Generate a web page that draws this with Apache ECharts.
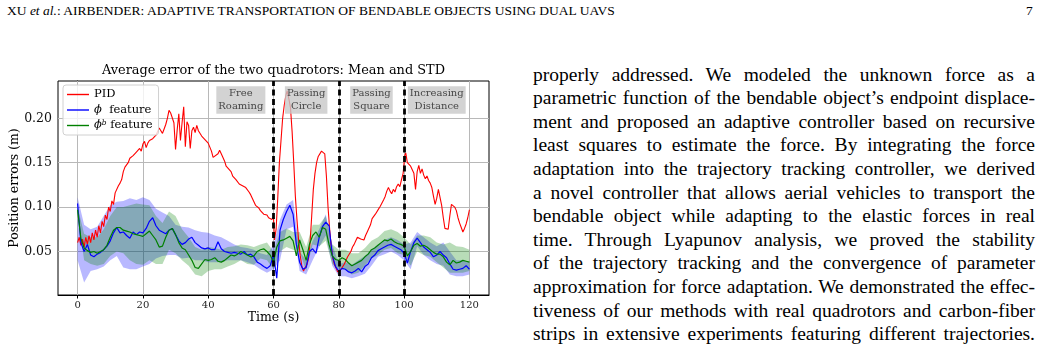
<!DOCTYPE html>
<html>
<head>
<meta charset="utf-8">
<script src="https://cdn.jsdelivr.net/npm/echarts@6.0.0/dist/echarts.min.js"></script>
<style>
  html, body { margin: 0; padding: 0; background: #fff; }
  body { width: 1042px; height: 351px; position: relative; overflow: hidden; }
  #header { position: absolute; left: 7px; top: 3px; font: 13.5px "Liberation Serif", serif; color: #000; white-space: nowrap; }
  #pageno { position: absolute; left: 1026px; top: 3px; font: 13.5px "Liberation Serif", serif; }
  #chart { position: absolute; left: 0; top: 0; width: 520px; height: 351px; }
  #text { position: absolute; left: 533px; top: 62.6px; width: 502px; font: 19.5px "Liberation Serif", serif; color: #000; }
  #text div { line-height: 23.6px; height: 23.6px; text-align: justify; text-align-last: justify; white-space: nowrap; }
</style>
</head>
<body>
<div id="header">XU <i>et al.</i>: AIRBENDER: ADAPTIVE TRANSPORTATION OF BENDABLE OBJECTS USING DUAL UAVS</div>
<div id="pageno">7</div>
<div id="chart"></div>
<div id="text">
  <div>properly addressed. We modeled the unknown force as a</div>
  <div>parametric function of the bendable object’s endpoint displace-</div>
  <div>ment and proposed an adaptive controller based on recursive</div>
  <div>least squares to estimate the force. By integrating the force</div>
  <div>adaptation into the trajectory tracking controller, we derived</div>
  <div>a novel controller that allows aerial vehicles to transport the</div>
  <div>bendable object while adapting to the elastic forces in real</div>
  <div>time. Through Lyapunov analysis, we proved the stability</div>
  <div>of the trajectory tracking and the convergence of parameter</div>
  <div>approximation for force adaptation. We demonstrated the effec-</div>
  <div>tiveness of our methods with real quadrotors and carbon-fiber</div>
  <div>strips in extensive experiments featuring different trajectories.</div>
</div>
<script>
// PID: [time (s), error (m)]
const pidData = [
  [0,0.060],[0.5,0.066],[1,0.057],[1.5,0.064],[2,0.055],[2.5,0.066],[3,0.058],[3.5,0.068],[4,0.060],[4.5,0.071],
  [5,0.063],[5.5,0.074],[6,0.066],[6.5,0.079],[7,0.071],[7.5,0.084],[8,0.078],[8.5,0.091],[9,0.086],[9.5,0.100],
  [10,0.095],[10.5,0.107],[11,0.103],[11.5,0.116],[12,0.114],[12.5,0.124],[13,0.127],[13.5,0.131],[14,0.140],[14.5,0.145],
  [15,0.143],[15.5,0.150],[16,0.155],[16.5,0.153],[17,0.158],[17.5,0.157],[18,0.162],[19,0.166],[19.5,0.163],[20,0.171],
  [20.5,0.174],[21,0.167],[21.5,0.172],[22,0.175],[23,0.177],[23.5,0.179],[24,0.181],[25,0.189],[25.5,0.186],[26,0.183],
  [26.5,0.188],[27,0.193],[27.5,0.200],[28,0.209],[28.5,0.206],[29,0.208],[29.5,0.195],[30,0.165],[30.5,0.187],[31,0.205],
  [31.5,0.175],[32,0.195],[32.5,0.213],[33,0.168],[33.5,0.196],[34,0.192],[34.5,0.166],[35,0.186],[35.5,0.190],[36,0.184],
  [36.5,0.192],[37,0.186],[37.5,0.188],[38,0.180],[38.5,0.181],[39,0.176],[39.5,0.176],[40,0.172],[41,0.163],[41.5,0.156],
  [42,0.157],[43,0.160],[43.5,0.164],[44,0.160],[45,0.152],[45.5,0.146],[46,0.147],[47,0.140],[47.5,0.135],[48,0.137],
  [48.5,0.131],[49,0.130],[49.5,0.126],[50,0.128],[50.5,0.124],[51,0.125],[51.5,0.122],[52,0.121],[52.5,0.117],[53,0.114],
  [53.5,0.110],[54,0.106],[54.5,0.102],[55,0.100],[55.5,0.099],[56,0.096],[56.5,0.094],[57,0.092],[57.5,0.090],[58,0.091],
  [58.5,0.088],[59,0.088],[59.5,0.086],[60,0.089],[60.3,0.063],[60.8,0.075],[61.3,0.110],[61.8,0.150],[62.3,0.175],[62.8,0.200],
  [63.3,0.215],[63.8,0.226],[64.2,0.231],[64.7,0.222],[65.2,0.212],[65.7,0.185],[66.2,0.150],[66.7,0.112],[67.2,0.085],[67.7,0.062],
  [68.2,0.045],[68.7,0.033],[69.2,0.028],[69.7,0.032],[70.2,0.035],[70.7,0.042],[71.2,0.060],[71.7,0.090],[72.2,0.120],[72.7,0.138],
  [73.2,0.150],[73.7,0.157],[74.2,0.156],[74.7,0.163],[75.2,0.165],[75.7,0.160],[76.2,0.135],[76.7,0.100],[77.2,0.075],[77.7,0.055],
  [78.2,0.042],[78.7,0.035],[79.2,0.033],[79.7,0.027],[80.2,0.026],[80.7,0.030],[81.2,0.028],[81.7,0.036],[82.2,0.040],[82.7,0.044],
  [83.2,0.046],[83.7,0.050],[84.2,0.055],[84.7,0.058],[85.2,0.062],[85.7,0.066],[86.2,0.068],[86.7,0.064],[87.2,0.066],[87.7,0.063],
  [88.2,0.068],[88.7,0.072],[89.2,0.070],[89.7,0.080],[90.2,0.087],[90.7,0.085],[91.2,0.092],[91.7,0.094],[92.2,0.098],[92.7,0.101],
  [93.2,0.100],[93.7,0.108],[94.2,0.112],[94.7,0.118],[95.2,0.122],[95.7,0.118],[96.2,0.115],[96.7,0.120],[97.2,0.117],[97.7,0.123],
  [98.2,0.126],[98.7,0.123],[99.2,0.131],[99.7,0.138],[100.2,0.158],[100.5,0.161],[101,0.150],[101.5,0.152],[102,0.146],[102.5,0.142],
  [103,0.138],[103.5,0.120],[104,0.140],[104.5,0.147],[105,0.138],[105.5,0.143],[106,0.136],[106.5,0.132],[107,0.135],[107.5,0.130],
  [108,0.127],[108.5,0.122],[109,0.112],[109.5,0.103],[110,0.110],[110.5,0.120],[111,0.118],[111.5,0.102],[112,0.088],[112.5,0.076],
  [113,0.074],[113.5,0.075],[114,0.090],[114.5,0.103],[115,0.104],[115.5,0.100],[116,0.096],[116.5,0.088],[117,0.082],[117.5,0.077],
  [118,0.072],[118.5,0.076],[119,0.081],[119.5,0.088],[120,0.097]
];

// phi feature mean, one value per second 0..120
const phiMean = [
  0.104,0.060,0.050,0.058,0.046,0.044,0.047,0.049,0.052,0.056,
  0.062,0.071,0.077,0.071,0.072,0.068,0.065,0.072,0.069,0.072,
  0.071,0.076,0.084,0.088,0.079,0.074,0.072,0.070,0.074,0.076,
  0.069,0.062,0.058,0.060,0.064,0.066,0.060,0.057,0.054,0.053,
  0.054,0.052,0.052,0.061,0.053,0.050,0.049,0.048,0.049,0.048,
  0.047,0.050,0.046,0.047,0.044,0.038,0.036,0.033,0.031,0.034,
  0.046,0.020,0.074,0.086,0.095,0.102,0.092,0.058,0.038,0.030,
  0.032,0.050,0.053,0.048,0.066,0.078,0.083,0.079,0.046,0.033,
  0.028,0.031,0.030,0.027,0.026,0.028,0.031,0.027,0.033,0.036,
  0.043,0.046,0.051,0.053,0.055,0.057,0.058,0.056,0.054,0.052,
  0.048,0.037,0.050,0.060,0.065,0.060,0.055,0.052,0.049,0.044,
  0.046,0.050,0.046,0.043,0.036,0.030,0.029,0.030,0.031,0.034,
  0.030
];

// phi^b feature mean, one value per second 0..120
const phibMean = [
  0.097,0.065,0.054,0.051,0.049,0.050,0.048,0.050,0.052,0.057,
  0.066,0.074,0.077,0.077,0.074,0.073,0.072,0.070,0.069,0.068,
  0.067,0.070,0.073,0.068,0.063,0.055,0.056,0.066,0.074,0.076,
  0.069,0.060,0.054,0.052,0.046,0.040,0.032,0.031,0.036,0.041,
  0.040,0.041,0.043,0.039,0.038,0.040,0.043,0.046,0.045,0.047,
  0.050,0.048,0.046,0.044,0.045,0.050,0.052,0.053,0.050,0.046,
  0.038,0.055,0.062,0.063,0.065,0.067,0.062,0.045,0.063,0.052,
  0.040,0.058,0.068,0.072,0.066,0.077,0.075,0.058,0.045,0.041,
  0.040,0.043,0.041,0.037,0.034,0.036,0.038,0.040,0.044,0.047,
  0.052,0.054,0.057,0.060,0.063,0.062,0.064,0.061,0.059,0.058,
  0.056,0.045,0.050,0.057,0.059,0.056,0.057,0.055,0.052,0.049,
  0.047,0.047,0.044,0.038,0.035,0.040,0.037,0.038,0.040,0.039,
  0.038
];

// STD bands, one value every 2 s (0, 2, ..., 120)
const phiUpper = [
  0.111,0.080,0.075,0.078,0.090,0.102,0.106,0.107,0.110,0.108,
  0.111,0.108,0.098,0.094,0.090,0.080,0.078,0.077,0.074,0.072,
  0.071,0.068,0.066,0.062,0.058,0.055,0.054,0.052,0.048,0.046,
  0.058,0.086,0.103,0.108,0.050,0.040,0.062,0.075,0.092,0.058,
  0.036,0.038,0.035,0.040,0.045,0.052,0.058,0.063,0.066,0.063,
  0.058,0.060,0.072,0.066,0.060,0.056,0.060,0.050,0.040,0.040,
  0.038
];
const phiLower = [
  0.040,0.015,0.028,0.030,0.033,0.040,0.045,0.032,0.030,0.030,
  0.033,0.036,0.042,0.045,0.046,0.046,0.042,0.043,0.040,0.040,
  0.038,0.038,0.038,0.040,0.040,0.040,0.038,0.035,0.030,0.026,
  0.030,0.040,0.075,0.078,0.028,0.024,0.040,0.055,0.068,0.034,
  0.022,0.022,0.020,0.022,0.025,0.034,0.044,0.047,0.050,0.046,
  0.040,0.030,0.056,0.046,0.040,0.036,0.034,0.024,0.022,0.022,
  0.024
];
const phibUpper = [
  0.100,0.070,0.066,0.066,0.075,0.090,0.100,0.100,0.102,0.104,
  0.103,0.102,0.090,0.082,0.095,0.090,0.075,0.066,0.055,0.052,
  0.055,0.054,0.052,0.055,0.056,0.058,0.057,0.055,0.058,0.060,
  0.050,0.072,0.076,0.072,0.072,0.055,0.080,0.080,0.090,0.058,
  0.052,0.052,0.048,0.048,0.054,0.062,0.066,0.073,0.075,0.072,
  0.066,0.058,0.068,0.068,0.066,0.060,0.058,0.060,0.056,0.055,
  0.052
];
const phibLower = [
  0.090,0.040,0.036,0.034,0.036,0.045,0.050,0.048,0.040,0.036,
  0.035,0.040,0.036,0.036,0.052,0.048,0.040,0.034,0.024,0.022,
  0.028,0.030,0.030,0.033,0.036,0.040,0.036,0.035,0.042,0.040,
  0.030,0.050,0.055,0.052,0.050,0.028,0.058,0.056,0.062,0.036,
  0.030,0.030,0.024,0.026,0.034,0.042,0.046,0.052,0.054,0.048,
  0.046,0.034,0.050,0.046,0.044,0.038,0.032,0.026,0.026,0.026,
  0.028
];

const phaseNames = ['Free\nRoaming', 'Passing\nCircle', 'Passing\nSquare', 'Increasing\nDistance'];
const phaseCenters = [50, 70, 90, 110];
const phaseBounds = [60, 80, 100];
const xTicks = [0, 20, 40, 60, 80, 100, 120];
const yTicks = [0.05, 0.10, 0.15, 0.20];

const SERIF = 'DejaVu Serif';

const perSecond = arr => arr.map((v, i) => [i, v]);

const chart = echarts.init(document.getElementById('chart'), null, { renderer: 'canvas' });

// mean +/- std band as one polygon, placed through the axes
const bandSeries = (lo, hi, color) => ({
  type: 'custom', silent: true, z: 2, clip: true,
  data: [[0, lo[0]]],
  renderItem: (params, api) => {
    const pts = [];
    hi.forEach((v, i) => pts.push(api.coord([i * 2, v])));
    for (let i = lo.length - 1; i >= 0; i--) pts.push(api.coord([i * 2, lo[i]]));
    return { type: 'polygon', shape: { points: pts }, style: { fill: color } };
  }
});

const option = {
  animation: false,
  title: {
    text: 'Average error of the two quadrotors: Mean and STD',
    left: 273.5, textAlign: 'center', top: 64, padding: 0,
    textStyle: { fontFamily: SERIF, fontSize: 12.9, fontWeight: 'normal', color: '#000' }
  },
  grid: {
    left: 58, top: 81, right: 31, bottom: 56, outerBoundsMode: 'none', containLabel: false,
    show: true, borderColor: '#000', borderWidth: 1, backgroundColor: 'transparent'
  },
  legend: {
    data: ['PID', 'phi', 'phib'],
    orient: 'vertical', left: 63, top: 85,
    padding: [3, 6, 3, 4], itemGap: 2.5, itemWidth: 22, itemHeight: 1.4, icon: 'rect',
    backgroundColor: 'rgba(255,255,255,0.8)', borderColor: '#d0d0d0', borderWidth: 1, borderRadius: 3,
    formatter: function (name) {
      if (name === 'PID') return 'PID';
      if (name === 'phi') return '{i|ϕ}  feature';
      return '{i|ϕ}{s|b} feature';
    },
    textStyle: {
      fontFamily: SERIF, fontSize: 11.5, color: '#000', lineHeight: 13,
      rich: {
        i: { fontFamily: SERIF, fontStyle: 'italic', fontSize: 11.5, lineHeight: 13 },
        s: { fontFamily: SERIF, fontStyle: 'italic', fontSize: 7.5, verticalAlign: 'top', lineHeight: 13 }
      }
    }
  },
  xAxis: {
    type: 'value', min: -6, max: 126,
    name: 'Time (s)', nameLocation: 'middle', nameGap: 16, nameMoveOverlap: false,
    nameTextStyle: { fontFamily: SERIF, fontSize: 12.5, color: '#000' },
    axisLine: { show: true, lineStyle: { color: '#000', width: 1 } },
    axisTick: { show: true, inside: false, length: 3.5, customValues: xTicks, lineStyle: { color: '#000' } },
    axisLabel: { customValues: xTicks, margin: 5, fontFamily: SERIF, fontSize: 10, color: '#222' },
    splitLine: { show: false }
  },
  yAxis: {
    type: 'value', min: 0.001, max: 0.242,
    name: 'Position errors (m)', nameLocation: 'middle', nameGap: 37, nameRotate: 90, nameMoveOverlap: false,
    nameTextStyle: { fontFamily: SERIF, fontSize: 12.5, color: '#000' },
    axisLine: { show: true, lineStyle: { color: '#000', width: 1 } },
    axisTick: { show: true, inside: false, length: 3.5, customValues: yTicks, lineStyle: { color: '#000' } },
    axisLabel: { customValues: yTicks, margin: 6, fontFamily: SERIF, fontSize: 12.5, color: '#111',
      formatter: v => v.toFixed(2) },
    splitLine: { show: false }
  },
  series: [
    {
      // grid lines
      type: 'line', data: [], silent: true,
      markLine: {
        silent: true, symbol: 'none', label: { show: false }, animation: false, z: 1,
        lineStyle: { color: '#b8b8b8', width: 1, type: 'solid' },
        data: xTicks.map(v => ({ xAxis: v })).concat(yTicks.map(v => ({ yAxis: v })))
      }
    },
    bandSeries(phiLower, phiUpper, 'rgba(0,0,255,0.28)'),
    bandSeries(phibLower, phibUpper, 'rgba(0,128,0,0.28)'),
    {
      name: 'PID', type: 'line', data: pidData, symbol: 'none', z: 3,
      itemStyle: { color: '#ff0000' }, lineStyle: { color: '#ff0000', width: 1.1 }
    },
    {
      name: 'phi', type: 'line', data: perSecond(phiMean), symbol: 'none', z: 3,
      itemStyle: { color: '#0000ff' }, lineStyle: { color: '#0000ff', width: 1.2 }
    },
    {
      name: 'phib', type: 'line', data: perSecond(phibMean), symbol: 'none', z: 3,
      itemStyle: { color: '#008000' }, lineStyle: { color: '#008000', width: 1.2 }
    },
    {
      // phase boundaries
      type: 'line', data: [], silent: true, z: 4,
      markLine: {
        silent: true, symbol: 'none', label: { show: false }, animation: false,
        lineStyle: { color: '#000', width: 2.8, type: [6, 3.5] },
        data: phaseBounds.map(v => ({ xAxis: v }))
      }
    },
    {
      type: 'scatter', symbolSize: 0, silent: true, z: 5,
      data: phaseCenters.map(c => [c, 0.2205]),
      label: {
        show: true, position: 'inside',
        formatter: p => phaseNames[p.dataIndex],
        fontFamily: SERIF, fontSize: 10, lineHeight: 12.5, color: '#222',
        backgroundColor: '#c8c8c8', padding: [1.5, 2, 1, 2], align: 'center', verticalAlign: 'middle'
      }
    }
  ]
};

chart.setOption(option);
</script>
</body>
</html>
